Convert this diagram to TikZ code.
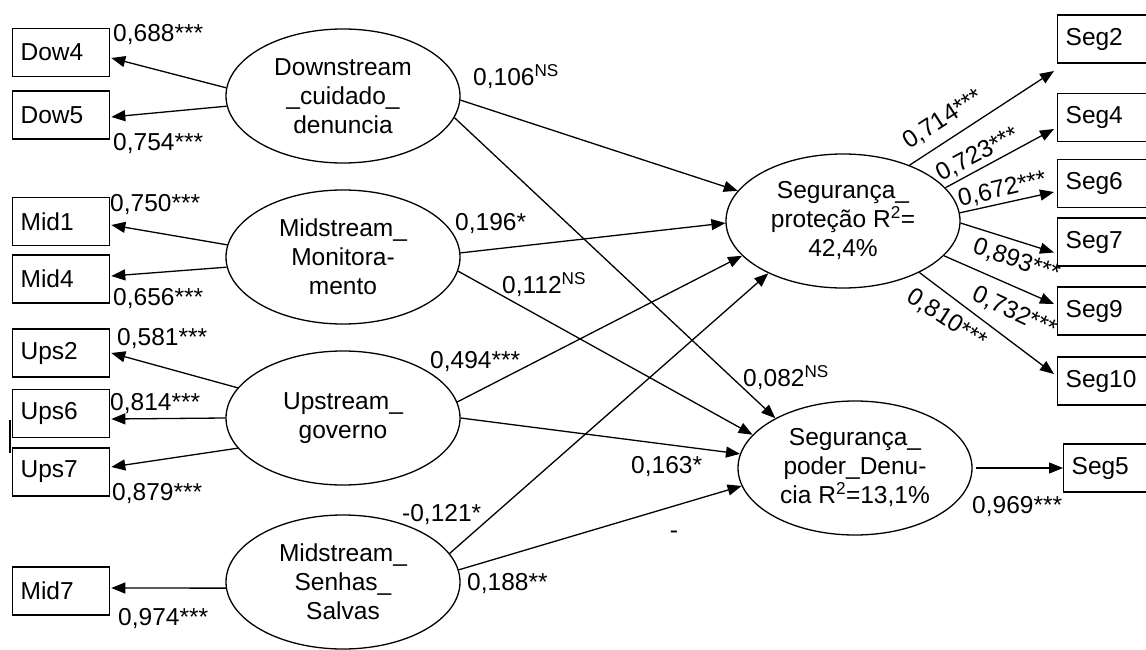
\documentclass[tikz,border=0pt]{standalone}
\usepackage{fontspec}
\setmainfont{Liberation Sans}
\usetikzlibrary{shapes.geometric,arrows.meta}
\begin{document}
\begin{tikzpicture}[x=1pt,y=-1pt,
  font=\fontsize{24.5pt}{29pt}\selectfont,
  lat/.style={ellipse,draw,line width=1.3pt,minimum width=234pt,minimum height=134pt,inner sep=0pt,align=center},
  ind/.style={draw,line width=1.3pt,anchor=west,minimum height=48pt,text width=81pt,inner xsep=8pt,inner ysep=0pt,align=left},
  lab/.style={inner sep=0pt,text height=17.5pt,text depth=0pt},
  conn/.style={line width=1.3pt,-{Triangle[length=14pt,width=11pt]}}
]
\useasboundingbox (0,0) rectangle (1146,650);
\clip (0,0) rectangle (1146,650);

% latent variables
\node[lat] (dn)  at (343,96)  {Downstream\\\_cuidado\_\\denuncia};
\node[lat] (mm)  at (343,257) {Midstream\_\\Monitora-\\mento};
\node[lat] (up)  at (343,418) {Upstream\_\\governo};
\node[lat] (ss)  at (343,582) {Midstream\_\\Senhas\_\\Salvas};
\node[lat] (sp)  at (843,221) {Segurança\_\\proteção R\textsuperscript{2}=\\42,4\%};
\node[lat] (spd) at (855,468) {Segurança\_\\poder\_Denu-\\cia R\textsuperscript{2}=13,1\%};

% indicators left
\node[ind] (dow4) at (12,52.5) {Dow4};
\node[ind] (dow5) at (12,115)  {Dow5};
\node[ind] (mid1) at (12,221.5) {Mid1};
\node[ind] (mid4) at (12,279) {Mid4};
\node[ind] (ups2) at (12,353) {Ups2};
\node[ind] (ups6) at (12,413.5) {Ups6};
\node[ind] (ups7) at (12,472) {Ups7};
\node[ind] (mid7) at (12,591) {Mid7};

% indicators right
\node[ind] (seg2)  at (1057,39)    {Seg2};
\node[ind] (seg4)  at (1057,117.5) {Seg4};
\node[ind] (seg6)  at (1057,183.5) {Seg6};
\node[ind] (seg7)  at (1057,242)   {Seg7};
\node[ind] (seg9)  at (1057,311)   {Seg9};
\node[ind] (seg10) at (1057,381)   {Seg10};
\node[ind] (seg5)  at (1063,468)   {Seg5};

% stray mark
\draw[line width=1.3pt] (10,420) -- (10,453);

% loadings left
\draw[conn] (dn.176) -- ([xshift=1pt,yshift=-5.5pt]dow4.east);
\draw[conn] (dn.185) -- ([xshift=1pt,yshift=-2pt]dow5.east);
\draw[conn] (mm.174) -- ([xshift=1pt,yshift=-3.5pt]mid1.east);
\draw[conn] (mm.185) -- ([xshift=1pt,yshift=3pt]mid4.east);
\draw[conn] (up.164) -- ([xshift=1pt]ups2.east);
\draw[conn] (up.180) -- ([xshift=1pt,yshift=-5.5pt]ups6.east);
\draw[conn] (up.196) -- ([xshift=1pt,yshift=5pt]ups7.east);
\draw[conn] (ss.183) -- ([xshift=1pt,yshift=3pt]mid7.east);

% structural paths
\draw[conn] (dn.358) -- (sp.164);
\draw[conn] (dn.349) -- (spd.148);
\draw[conn] (mm.2)   -- (sp.181);
\draw[conn] (mm.353) -- (spd.162);
\draw[conn] (up.8)   -- (sp.199);
\draw[conn] (up.0)   -- (spd.173);
\draw[conn] (ss.15)  -- (sp.215);
\draw[conn] (ss.6)   -- (spd.189);

% loadings right
\draw[conn] (sp.40)  -- ([xshift=-3pt,yshift=-32pt]seg2.west);
\draw[conn] (sp.18)  -- ([xshift=-3pt,yshift=-11.5pt]seg4.west);
\draw[conn] (sp.4)   -- ([xshift=-3pt,yshift=-8.5pt]seg6.west);
\draw[conn] (sp.-1)  -- ([xshift=-3pt,yshift=-10.5pt]seg7.west);
\draw[conn] (sp.-19) -- ([xshift=-3pt,yshift=7pt]seg9.west);
\draw[conn] (sp.-34) -- ([xshift=-3pt,yshift=7pt]seg10.west);
\draw[conn, shorten <=3pt] (spd.0) -- (seg5.west);

% labels
\node[lab,anchor=west] (l1)  at (113,33)  {0,688***};
\node[lab,anchor=west] (l2)  at (113,142) {0,754***};
\node[lab,anchor=west] (l3)  at (110,203) {0,750***};
\node[lab,anchor=west] (l4)  at (113,297) {0,656***};
\node[lab,anchor=west] (l5)  at (117,337) {0,581***};
\node[lab,anchor=west] (l6)  at (110,402) {0,814***};
\node[lab,anchor=west] (l7)  at (112,492) {0,879***};
\node[lab,anchor=west] (l8)  at (118,617) {0,974***};
\node[lab,anchor=west] (l9)  at (473,77)  {0,106\textsuperscript{NS}};
\node[lab,anchor=west] (l10) at (455,222) {0,196*};
\node[lab,anchor=west] (l11) at (502,285) {0,112\textsuperscript{NS}};
\node[lab,anchor=west] (l12) at (430,360) {0,494***};
\node[lab,anchor=west] (l13) at (743,378) {0,082\textsuperscript{NS}};
\node[lab,anchor=west] (l14) at (631,465) {0,163*};
\node[lab,anchor=west] (l15) at (402,513) {-0,121*};
\node[lab,anchor=west] (l16) at (467,582) {0,188**};
\node[lab] (l17) at (674,530) {-};
\node[lab,anchor=west] (l18) at (972,505) {0,969***};

\node[lab,rotate=33]  (r1) at (942,118)  {0,714***};
\node[lab,rotate=28]  (r2) at (977,153)  {0,723***};
\node[lab,rotate=13]  (r3) at (1002,188) {0,672***};
\node[lab,rotate=-19] (r4) at (1017,259) {0,893***};
\node[lab,rotate=-25] (r5) at (1015,311) {0,732***};
\node[lab,rotate=-33] (r6) at (948,318)  {0,810***};
\end{tikzpicture}
\end{document}
